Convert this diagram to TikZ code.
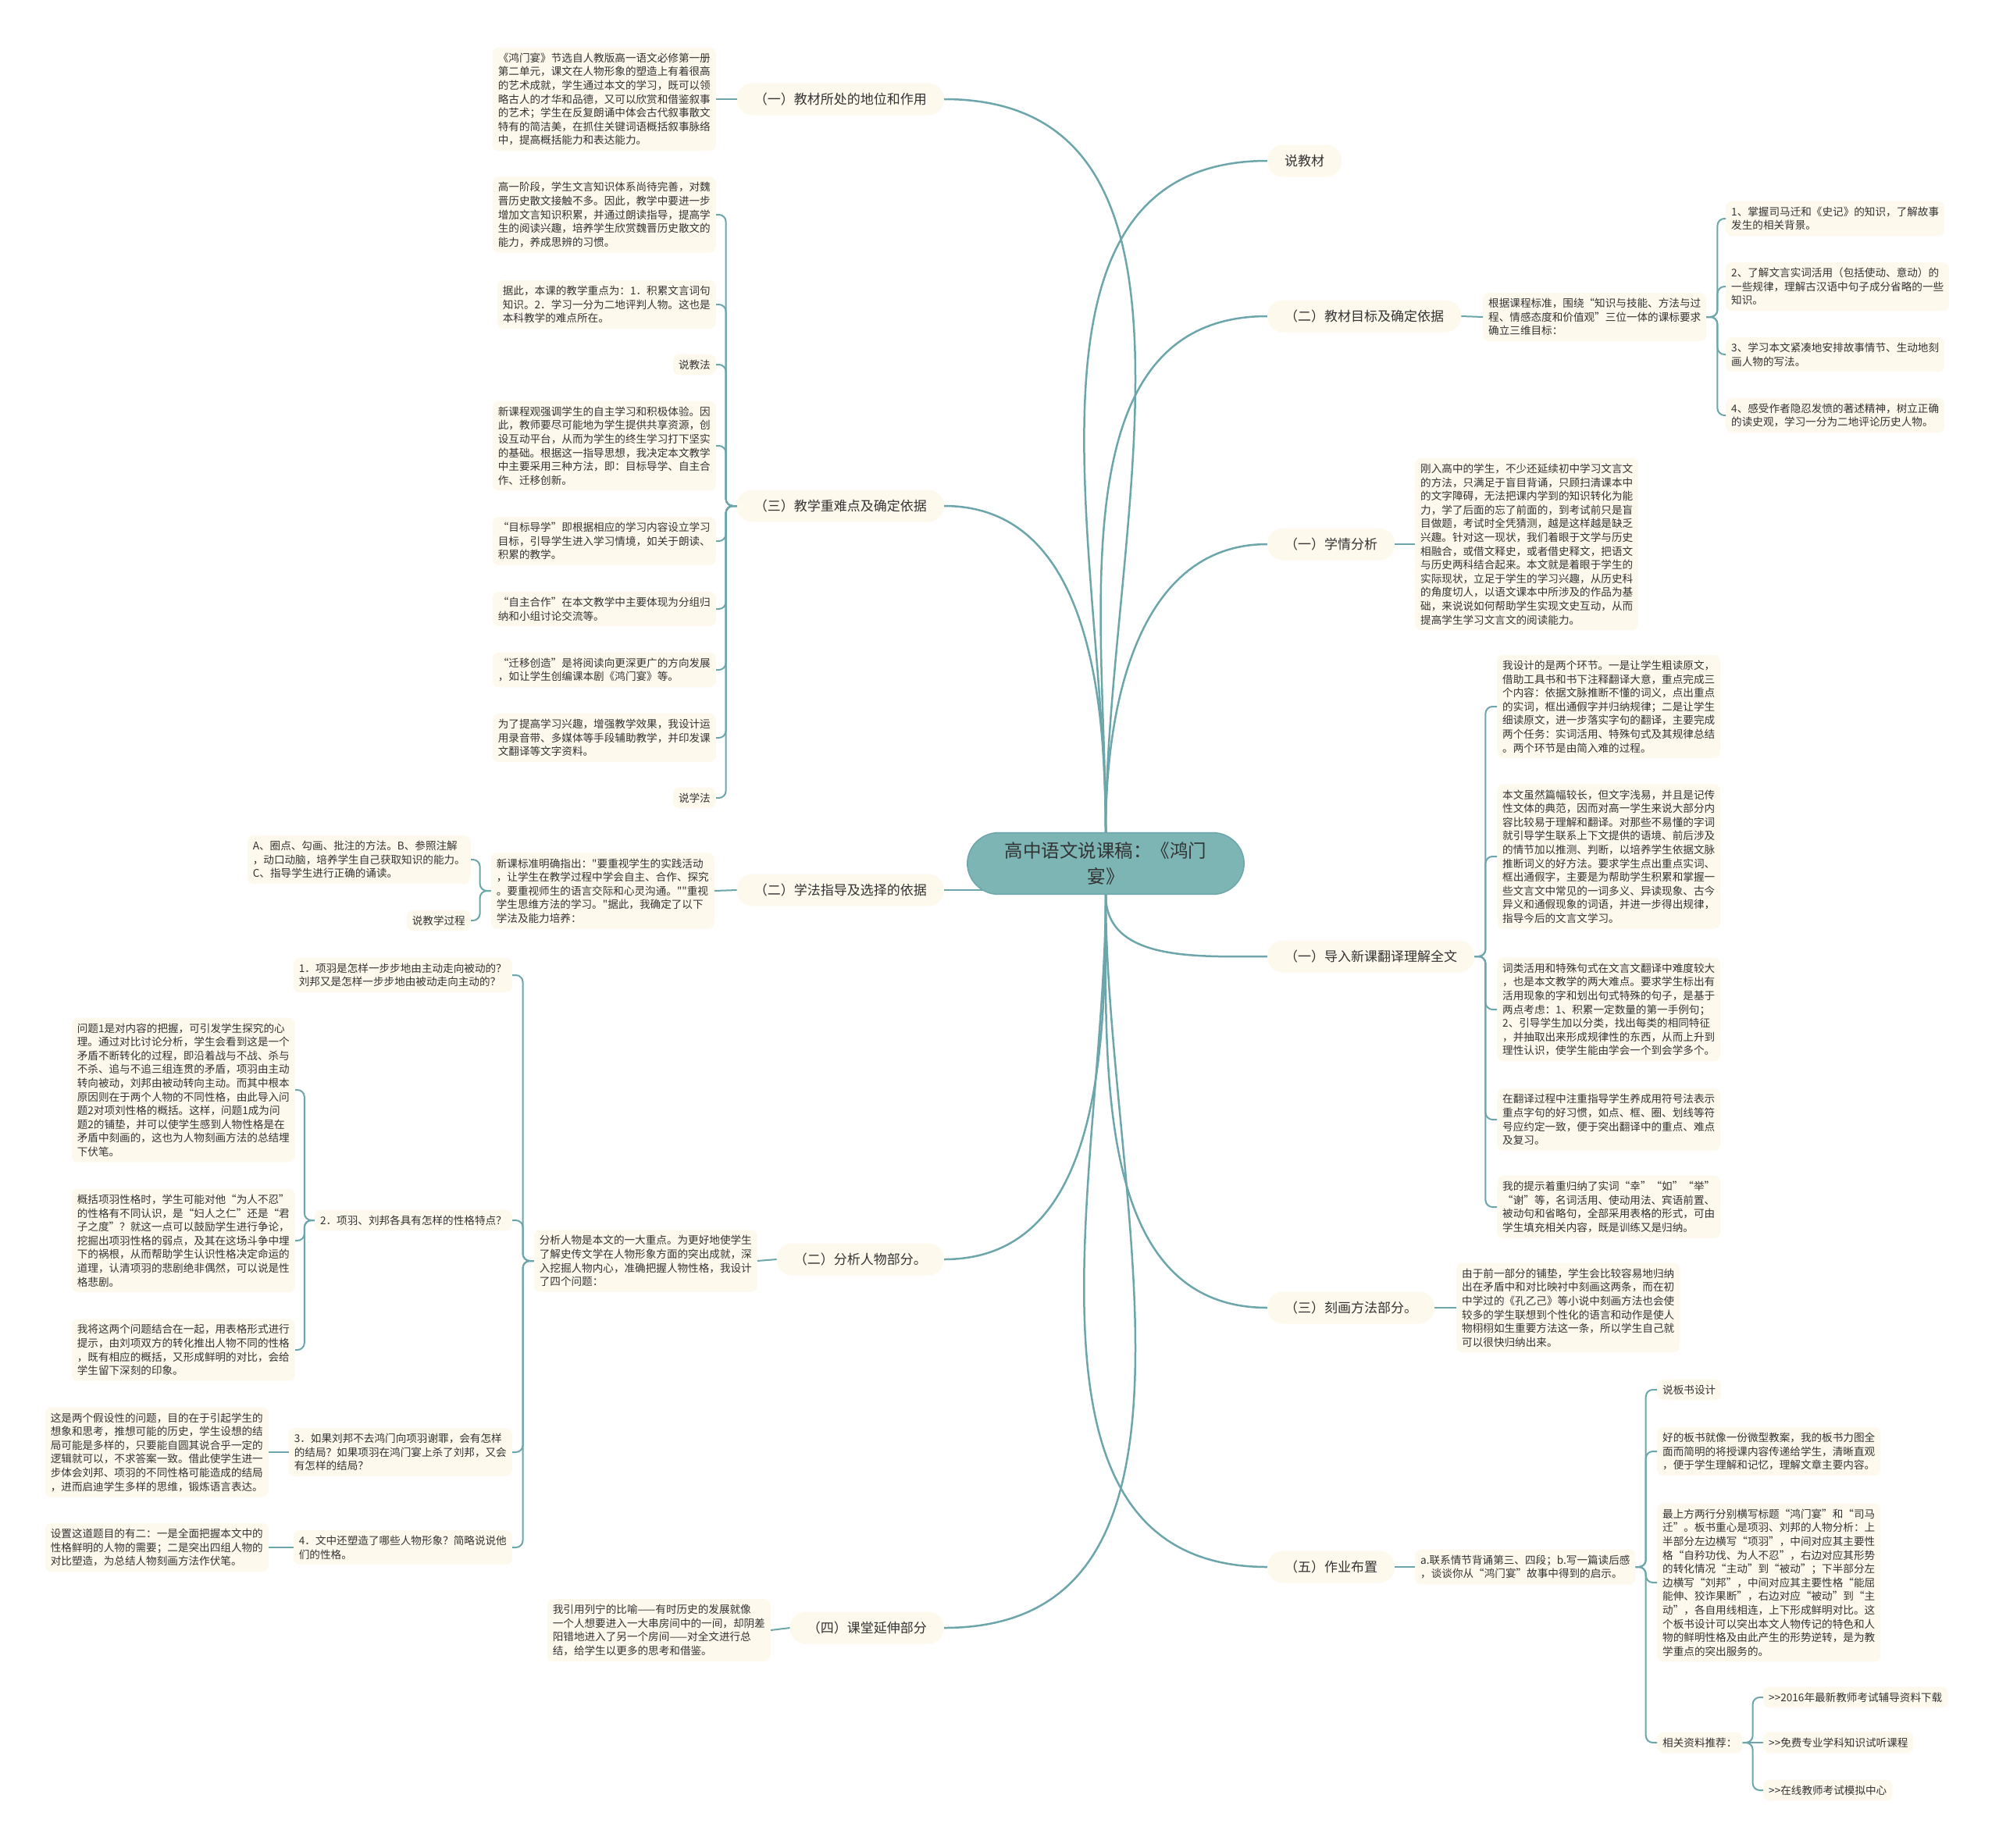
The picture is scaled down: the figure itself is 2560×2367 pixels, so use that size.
\documentclass[tikz,border=0pt]{standalone}
\usepackage{fontspec}
\setmainfont{Noto Sans CJK SC}
\newfontfamily\cjkfont{Noto Sans CJK SC}
\usetikzlibrary{backgrounds}
\definecolor{trunk}{RGB}{108,166,170}
\definecolor{paper}{RGB}{253,249,237}
\definecolor{hub}{RGB}{125,181,181}
\definecolor{ink}{RGB}{51,51,51}
\tikzset{
  root/.style={fill=hub,draw=trunk,line width=1.5,rounded corners=40,inner xsep=48,inner ysep=12,
    align=center,text=ink,font=\cjkfont\fontsize{23.5}{33}\selectfont},
  topic/.style={fill=paper,rounded corners=20,inner xsep=22,inner ysep=4,minimum height=41,
    text=ink,font=\cjkfont\fontsize{17}{20}\selectfont},
  leaf/.style={fill=paper,rounded corners=8,inner sep=7,align=left,text=ink,
    font=\cjkfont\fontsize{13.6}{17.6}\selectfont},
  branch/.style={draw=trunk,line width=2.5},
  link/.style={draw=trunk,line width=2,rounded corners=9}
}
\begin{document}
\begin{tikzpicture}[x=1pt,y=-1pt]
\useasboundingbox (0,0) rectangle (2560,2367);
% centre and main topics
\node[root] (ctr) at (1416,1106) {高中语文说课稿：《鸿门\\宴》};
\node[topic,anchor=east] (l1) at (1209,127) {（一）教材所处的地位和作用};
\node[topic,anchor=east] (l2) at (1209,648) {（三）教学重难点及确定依据};
\node[topic,anchor=east] (l3) at (1209,1140) {（二）学法指导及选择的依据};
\node[topic,anchor=east] (l4) at (1209,1613) {（二）分析人物部分。};
\node[topic,anchor=east] (l5) at (1209,2085) {（四）课堂延伸部分};
\node[topic,anchor=west] (r1) at (1623,206) {说教材};
\node[topic,anchor=west] (r2) at (1623,405) {（二）教材目标及确定依据};
\node[topic,anchor=west] (r3) at (1623,697) {（一）学情分析};
\node[topic,anchor=west] (r4) at (1623,1225) {（一）导入新课翻译理解全文};
\node[topic,anchor=west] (r5) at (1623,1675) {（三）刻画方法部分。};
\node[topic,anchor=west] (r6) at (1623,2007) {（五）作业布置};

% left side
\node[leaf,anchor=east] (l1a) at (917,127) {《鸿门宴》节选自人教版高一语文必修第一册\\第二单元，课文在人物形象的塑造上有着很高\\的艺术成就，学生通过本文的学习，既可以领\\略古人的才华和品德，又可以欣赏和借鉴叙事\\的艺术；学生在反复朗诵中体会古代叙事散文\\特有的简洁美，在抓住关键词语概括叙事脉络\\中，提高概括能力和表达能力。};

\node[leaf,anchor=east] (l2a) at (917,275) {高一阶段，学生文言知识体系尚待完善，对魏\\晋历史散文接触不多。因此，教学中要进一步\\增加文言知识积累，并通过朗读指导，提高学\\生的阅读兴趣，培养学生欣赏魏晋历史散文的\\能力，养成思辨的习惯。};
\node[leaf,anchor=east] (l2b) at (917,390) {据此，本课的教学重点为：1．积累文言词句\\知识。2．学习一分为二地评判人物。这也是\\本科教学的难点所在。};
\node[leaf,anchor=east] (l2c) at (917,467) {说教法};
\node[leaf,anchor=east] (l2d) at (917,571) {新课程观强调学生的自主学习和积极体验。因\\此，教师要尽可能地为学生提供共享资源，创\\设互动平台，从而为学生的终生学习打下坚实\\的基础。根据这一指导思想，我决定本文教学\\中主要采用三种方法，即：目标导学、自主合\\作、迁移创新。};
\node[leaf,anchor=east] (l2e) at (917,693) {“目标导学”即根据相应的学习内容设立学习\\目标，引导学生进入学习情境，如关于朗读、\\积累的教学。};
\node[leaf,anchor=east] (l2f) at (917,780) {“自主合作”在本文教学中主要体现为分组归\\纳和小组讨论交流等。};
\node[leaf,anchor=east] (l2g) at (917,858) {“迁移创造”是将阅读向更深更广的方向发展\\，如让学生创编课本剧《鸿门宴》等。};
\node[leaf,anchor=east] (l2h) at (917,945) {为了提高学习兴趣，增强教学效果，我设计运\\用录音带、多媒体等手段辅助教学，并印发课\\文翻译等文字资料。};
\node[leaf,anchor=east] (l2i) at (917,1022) {说学法};

\node[leaf,anchor=east] (l3a) at (915,1141) {新课标准明确指出："要重视学生的实践活动\\，让学生在教学过程中学会自主、合作、探究\\。要重视师生的语言交际和心灵沟通。""重视\\学生思维方法的学习。"据此，我确定了以下\\学法及能力培养：};
\node[leaf,anchor=east] (l3b) at (603,1101) {A、圈点、勾画、批注的方法。B、参照注解\\，动口动脑，培养学生自己获取知识的能力。\\C、指导学生进行正确的诵读。};
\node[leaf,anchor=east] (l3c) at (603,1179) {说教学过程};

\node[leaf,anchor=east] (l4a) at (970,1615) {分析人物是本文的一大重点。为更好地使学生\\了解史传文学在人物形象方面的突出成就，深\\入挖掘人物内心，准确把握人物性格，我设计\\了四个问题：};
\node[leaf,anchor=east] (q1) at (656,1249) {1．项羽是怎样一步步地由主动走向被动的？\\刘邦又是怎样一步步地由被动走向主动的？};
\node[leaf,anchor=east] (q2) at (656,1563) {2．项羽、刘邦各具有怎样的性格特点？};
\node[leaf,anchor=east] (q3) at (656,1860) {3．如果刘邦不去鸿门向项羽谢罪，会有怎样\\的结局？如果项羽在鸿门宴上杀了刘邦，又会\\有怎样的结局？};
\node[leaf,anchor=east] (q4) at (656,1982) {4．文中还塑造了哪些人物形象？简略说说他\\们的性格。};
\node[leaf,anchor=east] (q2a) at (378,1396) {问题1是对内容的把握，可引发学生探究的心\\理。通过对比讨论分析，学生会看到这是一个\\矛盾不断转化的过程，即沿着战与不战、杀与\\不杀、追与不追三组连贯的矛盾，项羽由主动\\转向被动，刘邦由被动转向主动。而其中根本\\原因则在于两个人物的不同性格，由此导入问\\题2对项刘性格的概括。这样，问题1成为问\\题2的铺垫，并可以使学生感到人物性格是在\\矛盾中刻画的，这也为人物刻画方法的总结埋\\下伏笔。};
\node[leaf,anchor=east] (q2b) at (378,1589) {概括项羽性格时，学生可能对他“为人不忍”\\的性格有不同认识，是“妇人之仁”还是“君\\子之度”？就这一点可以鼓励学生进行争论，\\挖掘出项羽性格的弱点，及其在这场斗争中埋\\下的祸根，从而帮助学生认识性格决定命运的\\道理，认清项羽的悲剧绝非偶然，可以说是性\\格悲剧。};
\node[leaf,anchor=east] (q2c) at (378,1729) {我将这两个问题结合在一起，用表格形式进行\\提示，由刘项双方的转化推出人物不同的性格\\，既有相应的概括，又形成鲜明的对比，会给\\学生留下深刻的印象。};
\node[leaf,anchor=east] (q3a) at (344,1860) {这是两个假设性的问题，目的在于引起学生的\\想象和思考，推想可能的历史，学生设想的结\\局可能是多样的，只要能自圆其说合乎一定的\\逻辑就可以，不求答案一致。借此使学生进一\\步体会刘邦、项羽的不同性格可能造成的结局\\，进而启迪学生多样的思维，锻炼语言表达。};
\node[leaf,anchor=east] (q4a) at (344,1982) {设置这道题目的有二：一是全面把握本文中的\\性格鲜明的人物的需要；二是突出四组人物的\\对比塑造，为总结人物刻画方法作伏笔。};

\node[leaf,anchor=east] (l5a) at (987,2088) {我引用列宁的比喻——有时历史的发展就像\\一个人想要进入一大串房间中的一间，却阴差\\阳错地进入了另一个房间——对全文进行总\\结，给学生以更多的思考和借鉴。};

% right side
\node[leaf,anchor=west] (r2a) at (1899,406) {根据课程标准，围绕“知识与技能、方法与过\\程、情感态度和价值观”三位一体的课标要求\\确立三维目标：};
\node[leaf,anchor=west] (r2b) at (2210,280) {1、掌握司马迁和《史记》的知识，了解故事\\发生的相关背景。};
\node[leaf,anchor=west] (r2c) at (2210,367) {2、了解文言实词活用（包括使动、意动）的\\一些规律，理解古汉语中句子成分省略的一些\\知识。};
\node[leaf,anchor=west] (r2d) at (2210,454) {3、学习本文紧凑地安排故事情节、生动地刻\\画人物的写法。};
\node[leaf,anchor=west] (r2e) at (2210,532) {4、感受作者隐忍发愤的著述精神，树立正确\\的读史观，学习一分为二地评论历史人物。};

\node[leaf,anchor=west] (r3a) at (1812,697) {刚入高中的学生，不少还延续初中学习文言文\\的方法，只满足于盲目背诵，只顾扫清课本中\\的文字障碍，无法把课内学到的知识转化为能\\力，学了后面的忘了前面的，到考试前只是盲\\目做题，考试时全凭猜测，越是这样越是缺乏\\兴趣。针对这一现状，我们着眼于文学与历史\\相融合，或借文释史，或者借史释文，把语文\\与历史两科结合起来。本文就是着眼于学生的\\实际现状，立足于学生的学习兴趣，从历史科\\的角度切人，以语文课本中所涉及的作品为基\\础，来说说如何帮助学生实现文史互动，从而\\提高学生学习文言文的阅读能力。};

\node[leaf,anchor=west] (r4a) at (1917,905) {我设计的是两个环节。一是让学生粗读原文，\\借助工具书和书下注释翻译大意，重点完成三\\个内容：依据文脉推断不懂的词义，点出重点\\的实词，框出通假字并归纳规律；二是让学生\\细读原文，进一步落实字句的翻译，主要完成\\两个任务：实词活用、特殊句式及其规律总结\\。两个环节是由简入难的过程。};
\node[leaf,anchor=west] (r4b) at (1917,1097) {本文虽然篇幅较长，但文字浅易，并且是记传\\性文体的典范，因而对高一学生来说大部分内\\容比较易于理解和翻译。对那些不易懂的字词\\就引导学生联系上下文提供的语境、前后涉及\\的情节加以推测、判断，以培养学生依据文脉\\推断词义的好方法。要求学生点出重点实词、\\框出通假字，主要是为帮助学生积累和掌握一\\些文言文中常见的一词多义、异读现象、古今\\异义和通假现象的词语，并进一步得出规律，\\指导今后的文言文学习。};
\node[leaf,anchor=west] (r4c) at (1917,1293) {词类活用和特殊句式在文言文翻译中难度较大\\，也是本文教学的两大难点。要求学生标出有\\活用现象的字和划出句式特殊的句子，是基于\\两点考虑：1、积累一定数量的第一手例句；\\2、引导学生加以分类，找出每类的相同特征\\，并抽取出来形成规律性的东西，从而上升到\\理性认识，使学生能由学会一个到会学多个。};
\node[leaf,anchor=west] (r4d) at (1917,1434) {在翻译过程中注重指导学生养成用符号法表示\\重点字句的好习惯，如点、框、圈、划线等符\\号应约定一致，便于突出翻译中的重点、难点\\及复习。};
\node[leaf,anchor=west] (r4e) at (1917,1546) {我的提示着重归纳了实词“幸”“如”“举”\\“谢”等，名词活用、使动用法、宾语前置、\\被动句和省略句，全部采用表格的形式，可由\\学生填充相关内容，既是训练又是归纳。};

\node[leaf,anchor=west] (r5a) at (1865,1675) {由于前一部分的铺垫，学生会比较容易地归纳\\出在矛盾中和对比映衬中刻画这两条，而在初\\中学过的《孔乙己》等小说中刻画方法也会使\\较多的学生联想到个性化的语言和动作是使人\\物栩栩如生重要方法这一条，所以学生自己就\\可以很快归纳出来。};

\node[leaf,anchor=west] (r6a) at (1812,2007) {a.联系情节背诵第三、四段；b.写一篇读后感\\，谈谈你从“鸿门宴”故事中得到的启示。};
\node[leaf,anchor=west] (r6b) at (2122,1780) {说板书设计};
\node[leaf,anchor=west] (r6c) at (2122,1859) {好的板书就像一份微型教案，我的板书力图全\\面而简明的将授课内容传递给学生，清晰直观\\，便于学生理解和记忆，理解文章主要内容。};
\node[leaf,anchor=west] (r6d) at (2122,2027) {最上方两行分别横写标题“鸿门宴”和“司马\\迁”。板书重心是项羽、刘邦的人物分析：上\\半部分左边横写“项羽”，中间对应其主要性\\格“自矜功伐、为人不忍”，右边对应其形势\\的转化情况“主动”到“被动”；下半部分左\\边横写“刘邦”，中间对应其主要性格“能屈\\能伸、狡诈果断”，右边对应“被动”到“主\\动”，各自用线相连，上下形成鲜明对比。这\\个板书设计可以突出本文人物传记的特色和人\\物的鲜明性格及由此产生的形势逆转，是为教\\学重点的突出服务的。};
\node[leaf,anchor=west] (r6e) at (2122,2232) {相关资料推荐：};
\node[leaf,anchor=west] (r6e1) at (2258,2174) {>>2016年最新教师考试辅导资料下载};
\node[leaf,anchor=west] (r6e2) at (2258,2232) {>>免费专业学科知识试听课程};
\node[leaf,anchor=west] (r6e3) at (2258,2293) {>>在线教师考试模拟中心};

% connectors
\begin{scope}[on background layer]
\fill[white] (0,0) rectangle (2560,2367);
\foreach \n in {l1,l2} \draw[branch] (ctr.north) to[out=90,in=0] (\n.east);
\foreach \n in {l4,l5} \draw[branch] (ctr.south) to[out=270,in=0] (\n.east);
\foreach \n in {r1,r2,r3} \draw[branch] (ctr.north) to[out=90,in=180] (\n.west);
\foreach \n in {r4,r5,r6} \draw[branch] (ctr.south) to[out=270,in=180] (\n.west);
\draw[branch] (l3.east) -- (l3.east -| ctr.center);
\end{scope}
\draw[link] (l1.west) -- (l1a.east);
\foreach \n in {l2a,l2b,l2c,l2d,l2e,l2f,l2g,l2h,l2i} \draw[link] (l2.west) -- ++(-14,0) |- (\n.east);
\draw[link] (l3.west) -- (l3a.east);
\foreach \n in {l3b,l3c} \draw[link] (l3a.west) -- ++(-14,0) |- (\n.east);
\draw[link] (l4.west) -- (l4a.east);
\foreach \n in {q1,q2,q3,q4} \draw[link] (l4a.west) -- ++(-14,0) |- (\n.east);
\foreach \n in {q2a,q2b,q2c} \draw[link] (q2.west) -- ++(-13,0) |- (\n.east);
\draw[link] (q3.west) -- (q3a.east);
\draw[link] (q4.west) -- (q4a.east);
\draw[link] (l5.west) -- (l5a.east);
\draw[link] (r2.east) -- (r2a.west);
\foreach \n in {r2b,r2c,r2d,r2e} \draw[link] (r2a.east) -- ++(14,0) |- (\n.west);
\draw[link] (r3.east) -- (r3a.west);
\foreach \n in {r4a,r4b,r4c,r4d,r4e} \draw[link] (r4.east) -- ++(14,0) |- (\n.west);
\draw[link] (r5.east) -- (r5a.west);
\draw[link] (r6.east) -- (r6a.west);
\foreach \n in {r6b,r6c,r6d,r6e} \draw[link] (r6a.east) -- ++(13,0) |- (\n.west);
\foreach \n in {r6e1,r6e3} \draw[link] (r6e.east) -- ++(13,0) |- (\n.west);
\draw[link] (r6e.east) -- (r6e2.west);
\end{tikzpicture}
\end{document}
